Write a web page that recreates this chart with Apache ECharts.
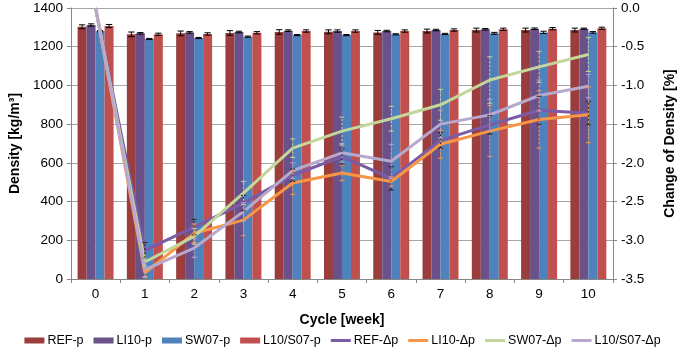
<!DOCTYPE html>
<html>
<head>
<meta charset="utf-8">
<script src="https://cdn.jsdelivr.net/npm/echarts@6/dist/echarts.min.js"></script>
<style>
  html, body { margin: 0; padding: 0; background: #fff; }
  #chart { width: 685px; height: 359px; }
</style>
</head>
<body>
<div id="chart"></div>
<script>
// cycles (week)
const cycles = ['0', '1', '2', '3', '4', '5', '6', '7', '8', '9', '10']

// density bars [kg/m3]
const refP = [1303, 1264, 1269, 1271, 1276, 1277, 1274, 1281, 1286, 1286, 1286]
const li10P = [1312, 1269, 1274, 1276, 1283, 1281, 1281, 1286, 1290, 1293, 1293]
const sw07P = [1280, 1240, 1245, 1252, 1260, 1260, 1264, 1266, 1269, 1274, 1274]
const l10s07P = [1307, 1264, 1266, 1272, 1281, 1281, 1281, 1286, 1290, 1293, 1295]
// bar error (+/-)
const refPErr = [10, 12, 12, 12, 12, 10, 10, 10, 10, 10, 10]
const li10PErr = [6, 4, 4, 4, 4, 6, 4, 4, 4, 4, 3]
const sw07PErr = [3, 3, 3, 3, 3, 3, 3, 3, 5, 6, 4]
const l10s07PErr = [8, 6, 6, 6, 6, 6, 6, 6, 6, 6, 6]

// change of density [%]
const refD = [0, -3.13, -2.83, -2.52, -2.16, -1.92, -2.20, -1.71, -1.51, -1.32, -1.36]
const li10D = [0, -3.42, -2.91, -2.74, -2.26, -2.13, -2.24, -1.76, -1.59, -1.44, -1.38]
const sw07D = [0, -3.28, -2.95, -2.39, -1.81, -1.59, -1.43, -1.25, -0.93, -0.76, -0.60]
const l10s07D = [0, -3.38, -3.10, -2.63, -2.10, -1.87, -1.98, -1.50, -1.38, -1.13, -1.01]
// line error (+/-)
const refDErr = [0, 0.1, 0.1, 0.1, 0.08, 0.1, 0.15, 0.1, 0.12, 0.18, 0.15]
const li10DErr = [0, 0.05, 0.12, 0.2, 0.15, 0.1, 0.06, 0.18, 0.33, 0.37, 0.36]
const sw07DErr = [0, 0.05, 0.1, 0.15, 0.12, 0.18, 0.16, 0.2, 0.3, 0.2, 0.22]
const l10s07DErr = [0, 0.1, 0.12, 0.12, 0.1, 0.12, 0.22, 0.18, 0.2, 0.2, 0.15]

const barColors = ['#9B3D3C', '#6A5189', '#4F81BD', '#C0504D']
const lineColors = ['#7A5BA8', '#F79646', '#C3D69B', '#B7A9CE']
const barNames = ['REF-p', 'LI10-p', 'SW07-p', 'L10/S07-p']
const lineNames = ['REF-Δp', 'LI10-Δp', 'SW07-Δp', 'L10/S07-Δp']
const barData = [refP, li10P, sw07P, l10s07P]
const barErr = [refPErr, li10PErr, sw07PErr, l10s07PErr]
const lineData = [refD, li10D, sw07D, l10s07D]
const lineErr = [refDErr, li10DErr, sw07DErr, l10s07DErr]

const CAT_GAP = 0.27
const FONT = 'Liberation Sans, Arial, sans-serif'

// 柱状图误差线
function barErrSeries (i) {
  return {
    type: 'custom',
    yAxisIndex: 0,
    z: 3,
    silent: true,
    data: barData[i].map((v, k) => [k, v - barErr[i][k], v + barErr[i][k]]),
    renderItem: function (params, api) {
      const band = api.size([1, 0])[0]
      const bw = band * (1 - CAT_GAP) / 4
      const off = (i - 1.5) * bw
      const lo = api.coord([api.value(0), api.value(1)])
      const hi = api.coord([api.value(0), api.value(2)])
      const x = lo[0] + off
      const cap = bw * 0.35
      const style = {stroke: '#000', lineWidth: 1}
      return {
        type: 'group',
        children: [
          {type: 'line', shape: {x1: x, y1: lo[1], x2: x, y2: hi[1]}, style: style},
          {type: 'line', shape: {x1: x - cap, y1: lo[1], x2: x + cap, y2: lo[1]}, style: style},
          {type: 'line', shape: {x1: x - cap, y1: hi[1], x2: x + cap, y2: hi[1]}, style: style}
        ]
      }
    }
  }
}

// 折线误差线（虚线）
function lineErrSeries (i) {
  return {
    type: 'custom',
    yAxisIndex: 1,
    z: 5,
    silent: true,
    data: lineData[i].map((v, k) => [k, v - lineErr[i][k], v + lineErr[i][k]]).filter(d => d[2] - d[1] > 0),
    renderItem: function (params, api) {
      const lo = api.coord([api.value(0), api.value(1)])
      const hi = api.coord([api.value(0), api.value(2)])
      const x = lo[0]
      const c = i === 0 ? '#222' : lineColors[i]
      const style = {stroke: c, lineWidth: 1, lineDash: [2, 2]}
      const cap = 2.5
      return {
        type: 'group',
        children: [
          {type: 'line', shape: {x1: x, y1: lo[1], x2: x, y2: hi[1]}, style: style},
          {type: 'line', shape: {x1: x - cap, y1: lo[1], x2: x + cap, y2: lo[1]}, style: {stroke: c, lineWidth: 1}},
          {type: 'line', shape: {x1: x - cap, y1: hi[1], x2: x + cap, y2: hi[1]}, style: {stroke: c, lineWidth: 1}}
        ]
      }
    }
  }
}

const series = []
barNames.forEach((n, i) => {
  series.push({
    name: n,
    type: 'bar',
    yAxisIndex: 0,
    barGap: '0%',
    barCategoryGap: (CAT_GAP * 100) + '%',
    itemStyle: {color: barColors[i]},
    data: barData[i]
  })
})
barNames.forEach((n, i) => series.push(barErrSeries(i)))
lineNames.forEach((n, i) => {
  series.push({
    name: n,
    type: 'line',
    yAxisIndex: 1,
    z: 4,
    symbol: 'none',
    lineStyle: {color: lineColors[i], width: 3},
    itemStyle: {color: lineColors[i]},
    data: lineData[i]
  })
})
lineNames.forEach((n, i) => series.push(lineErrSeries(i)))

const legendData = barNames.map(n => ({name: n, icon: 'rect'}))
  .concat(lineNames.map(n => ({name: n, icon: 'path://M0,0L20,0L20,3L0,3Z'})))

const option = {
  animation: false,
  textStyle: {fontFamily: FONT},
  grid: {left: 70, right: 70, top: 8, bottom: 80, containLabel: false},
  legend: {
    bottom: 7,
    left: 'center',
    itemWidth: 20,
    itemHeight: 6,
    itemGap: 10,
    textStyle: {fontSize: 12.5, color: '#000', fontFamily: FONT, padding: [0, 0, 0, -2]},
    data: legendData
  },
  xAxis: {
    type: 'category',
    data: cycles,
    name: 'Cycle [week]',
    nameLocation: 'middle',
    nameGap: 34,
    nameTextStyle: {fontSize: 14, fontWeight: 'bold', color: '#000'},
    axisLine: {lineStyle: {color: '#868686'}},
    axisTick: {show: true, length: 4, lineStyle: {color: '#868686'}},
    axisLabel: {fontSize: 13.5, color: '#000', margin: 8}
  },
  yAxis: [
    {
      type: 'value',
      min: 0,
      max: 1400,
      interval: 200,
      name: 'Density [kg/m³]',
      nameLocation: 'middle',
      nameGap: 46,
      nameTextStyle: {fontSize: 14, fontWeight: 'bold', color: '#000'},
      axisLine: {show: true, lineStyle: {color: '#868686'}},
      axisTick: {show: true, length: 4, lineStyle: {color: '#868686'}},
      axisLabel: {fontSize: 13.5, color: '#000', margin: 8, formatter: v => String(v)},
      splitLine: {lineStyle: {color: '#A6A6A6'}}
    },
    {
      type: 'value',
      min: -3.5,
      max: 0,
      interval: 0.5,
      position: 'right',
      name: 'Change of Density [%]',
      nameLocation: 'middle',
      nameGap: 50,
      nameRotate: 90,
      nameTextStyle: {fontSize: 14, fontWeight: 'bold', color: '#000'},
      axisLine: {show: true, lineStyle: {color: '#868686'}},
      axisTick: {show: true, length: 4, lineStyle: {color: '#868686'}},
      axisLabel: {fontSize: 13.5, color: '#000', margin: 8, formatter: v => v.toFixed(1)},
      splitLine: {show: false}
    }
  ],
  series: series
}

const chart = echarts.init(document.getElementById('chart'))
chart.setOption(option)
</script>
</body>
</html>
